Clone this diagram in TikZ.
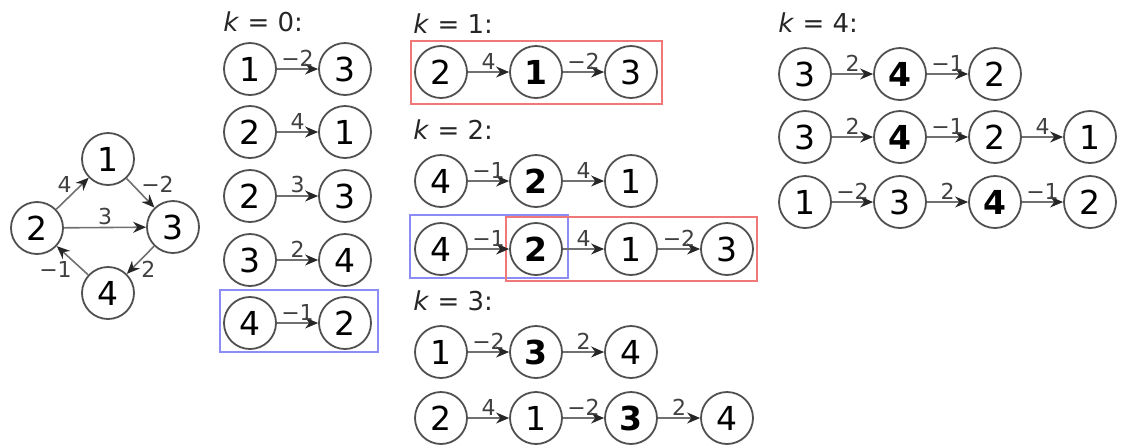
\documentclass[tikz,border=0pt]{standalone}
\usepackage{fontspec}
\setmainfont{DejaVu Sans}
\usetikzlibrary{arrows.meta}
\definecolor{ringgrey}{HTML}{505050}
\definecolor{edgegrey}{HTML}{707070}
\definecolor{boxred}{HTML}{F07878}
\definecolor{boxblue}{HTML}{8C8CF5}

\begin{document}
\begin{tikzpicture}[x=0.5pt,y=-0.5pt,
    vtx/.style={circle,draw=ringgrey,line width=0.9pt,minimum size=26pt,inner sep=0pt,fill=white,font=\fontsize{16.5}{16.5}\selectfont},
    edge/.style={draw=edgegrey,line width=0.8pt,-{Stealth[length=6.5pt,width=5.5pt,color=black!85]}},
    wlab/.style={font=\fontsize{11}{11}\selectfont,text=black!75,inner sep=1pt},
    klab/.style={font=\fontsize{13}{13}\selectfont,anchor=west,text=black!85,inner sep=0pt}]
  \useasboundingbox (0,0) rectangle (1121,447);
  % highlight boxes
  \draw[boxblue,line width=0.7pt] (220,290) rectangle (378,352);
  \draw[boxred,line width=0.7pt] (411,41) rectangle (662,104);
  \draw[boxblue,line width=0.7pt] (410,215) rectangle (568,278);
  \draw[boxred,line width=0.7pt] (506,217) rectangle (757,281);
  % input graph
  \foreach \n/\x/\y/\t in {g1/108/159/1,g2/37/228/2,g3/173/227/3,g4/108/293/4}{\node[vtx] (\n) at (\x,\y) {\t};}
  \draw[edge] (g2) -- node[wlab,above left=-1pt] {4} (g1);
  \draw[edge] (g1) -- node[wlab,above right=-1pt] {−2} (g3);
  \draw[edge] (g2) -- node[wlab,above] {3} (g3);
  \draw[edge] (g3) -- node[wlab,below right=-1pt] {2} (g4);
  \draw[edge] (g4) -- node[wlab,below left=-1pt] {−1} (g2);
  % section titles
  \node[klab] (t0) at (223,22) {\textit{k} = 0:};
  \node[klab] (t1) at (413,24) {\textit{k} = 1:};
  \node[klab] (t2) at (413,130) {\textit{k} = 2:};
  \node[klab] (t3) at (413,301) {\textit{k} = 3:};
  \node[klab] (t4) at (778,23) {\textit{k} = 4:};
  % k = 0
  \foreach \n/\x/\y/\t in {a1a/250/69/1,a1b/345/69/3,a2a/250/132/2,a2b/345/132/1,a3a/250/196/2,a3b/345/196/3,
      a4a/250/260/3,a4b/345/260/4,a5a/250/323/4,a5b/345/323/2}{\node[vtx] (\n) at (\x,\y) {\t};}
  \foreach \s/\e/\w in {a1a/a1b/−2,a2a/a2b/4,a3a/a3b/3,a4a/a4b/2,a5a/a5b/−1}{\draw[edge] (\s) -- node[wlab,above] {\w} (\e);}
  % k = 1 and k = 2
  \foreach \n/\x/\y/\t in {b1a/441/72/2,b1b/536/72/\textbf{1},b1c/631/72/3,
      c1a/441/181/4,c1b/536/181/\textbf{2},c1c/631/181/1,
      c2a/441/249/4,c2b/536/249/\textbf{2},c2c/631/249/1,c2d/727/249/3}{\node[vtx] (\n) at (\x,\y) {\t};}
  \foreach \s/\e/\w in {b1a/b1b/4,b1b/b1c/−2,c1a/c1b/−1,c1b/c1c/4,c2a/c2b/−1,c2b/c2c/4,c2c/c2d/−2}{\draw[edge] (\s) -- node[wlab,above] {\w} (\e);}
  % k = 3
  \foreach \n/\x/\y/\t in {d1a/441/352/1,d1b/536/352/\textbf{3},d1c/631/352/4,
      d2a/441/418/2,d2b/536/418/1,d2c/631/418/\textbf{3},d2d/727/418/4}{\node[vtx] (\n) at (\x,\y) {\t};}
  \foreach \s/\e/\w in {d1a/d1b/−2,d1b/d1c/2,d2a/d2b/4,d2b/d2c/−2,d2c/d2d/2}{\draw[edge] (\s) -- node[wlab,above] {\w} (\e);}
  % k = 4
  \foreach \n/\x/\y/\t in {e1a/805/74/3,e1b/900/74/\textbf{4},e1c/995/74/2,
      e2a/805/137/3,e2b/900/137/\textbf{4},e2c/995/137/2,e2d/1090/137/1,
      e3a/805/202/1,e3b/900/202/3,e3c/995/202/\textbf{4},e3d/1090/202/2}{\node[vtx] (\n) at (\x,\y) {\t};}
  \foreach \s/\e/\w in {e1a/e1b/2,e1b/e1c/−1,e2a/e2b/2,e2b/e2c/−1,e2c/e2d/4,e3a/e3b/−2,e3b/e3c/2,e3c/e3d/−1}{\draw[edge] (\s) -- node[wlab,above] {\w} (\e);}
\end{tikzpicture}
\end{document}
